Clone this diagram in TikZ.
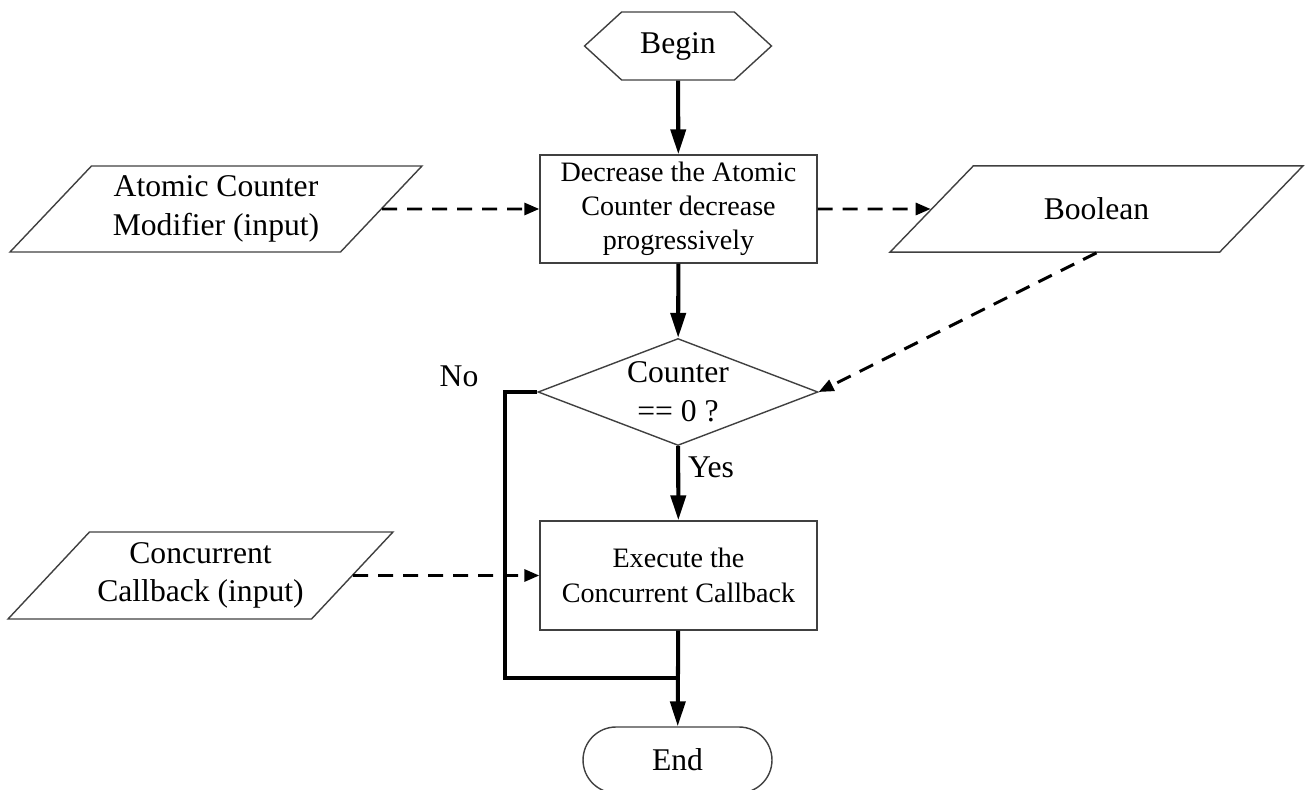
\documentclass[tikz,border=0pt]{standalone}
\usepackage{fontspec}
\setmainfont{Liberation Serif}
\usetikzlibrary{shapes.geometric,shapes.symbols,shapes.misc,arrows.meta}

\begin{document}
\begin{tikzpicture}[x=0.02cm,y=-0.02cm,
	big/.style={font=\fontsize{18}{22}\selectfont},
	small/.style={font=\fontsize{16}{19.5}\selectfont},
	outline/.style={draw=black!75,line width=0.8pt,align=center,inner sep=0pt},
	task/.style={outline,small,shape=rectangle,minimum width=5.54cm,minimum height=2.16cm},
	data/.style={outline,big,shape=trapezium,trapezium left angle=46,trapezium right angle=134,trapezium stretches body,inner ysep=0.18cm,minimum height=1.72cm},
	flow/.style={-{Triangle[length=0.5cm,width=0.3cm]},line width=2.3pt},
	feed/.style={-{Triangle[length=0.3cm,width=0.24cm]},line width=1.7pt,dash pattern=on 0.3cm off 0.2cm}
	]
	\useasboundingbox (0,0) rectangle (1308,790);
	
	\node[outline,big,shape=signal,signal to=east and west,signal pointer angle=85,minimum width=3.74cm,minimum height=1.36cm] (begin) at (678,46) {Begin};
	\node[task] (decrease) at (678.5,209) {Decrease the Atomic\\Counter decrease\\progressively};
	\node[data,minimum width=8.24cm] (modifier) at (216,209) {Atomic Counter\\Modifier (input)};
	\node[data,inner ysep=0.64cm,minimum width=8.26cm] (boolean) at (1096.5,209) {Boolean};
	\node[outline,big,shape=diamond,aspect=2.6,minimum width=5.6cm,minimum height=2.14cm] (counter) at (678,392) {Counter\\== 0 ?};
	\node[task,minimum height=2.18cm] (execute) at (678.5,575.5) {Execute the\\Concurrent Callback};
	\node[data,minimum width=7.7cm,minimum height=1.74cm] (callback) at (200.5,575.5) {Concurrent\\Callback (input)};
	\node[outline,big,shape=rounded rectangle,minimum width=3.78cm,minimum height=1.32cm] (end) at (677.5,760) {End};
	
	\node[big] (no) at (459,376) {No};
	\node[big] (yes) at (711,467) {Yes};
	
	\coordinate (noside) at (505,678);
	\coordinate (merge) at (678,678);
	
	\path[flow] (begin) edge (decrease);
	\path[flow] (decrease) edge (counter);
	\path[flow] (counter) edge (execute);
	\path[flow] (execute) edge (end);
	%\path[flow] (counter) edge (end);
	
	\path[feed] (modifier) edge (decrease);
	\path[feed] (decrease) edge (boolean);
	\path[feed] (boolean.south) edge (counter.east);
	\path[feed] (callback) edge (execute);
	
	\draw[line width=2.3pt] (counter.west) -| (noside) -- (merge);
	
\end{tikzpicture}
\end{document}
